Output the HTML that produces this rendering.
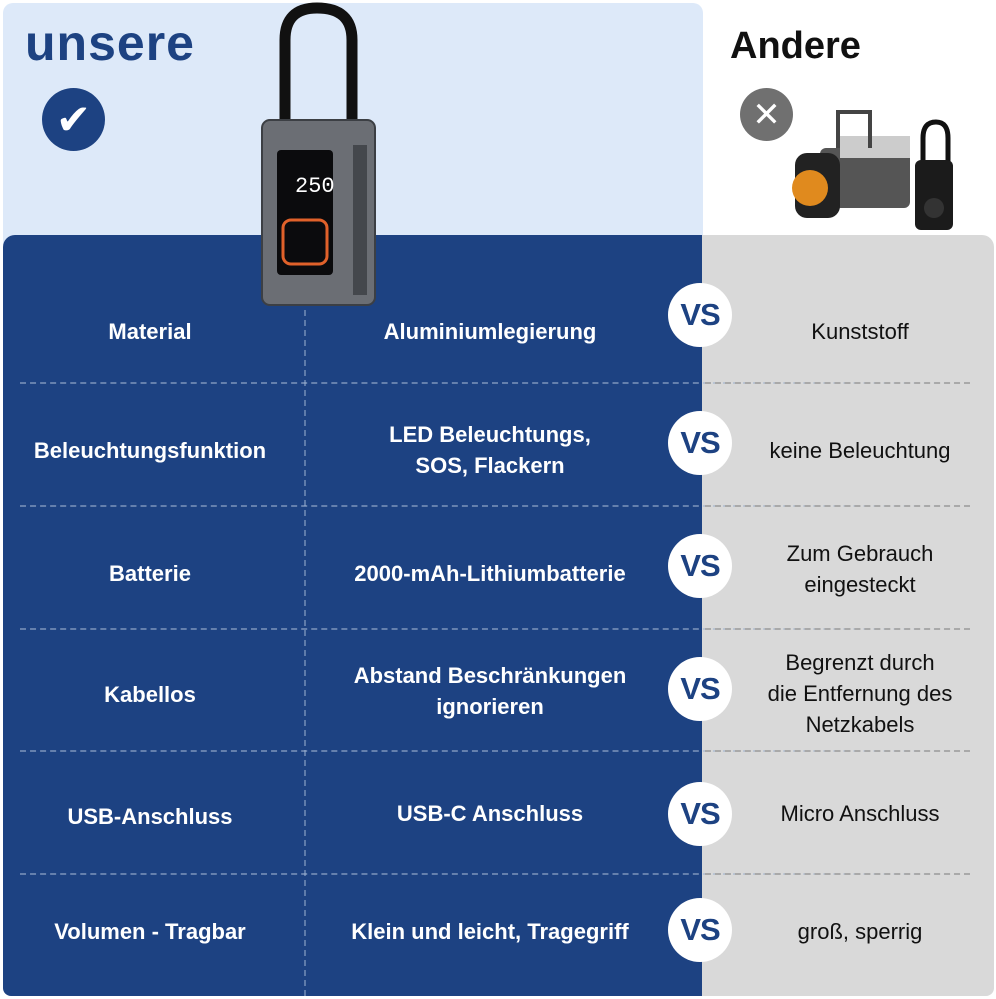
<!DOCTYPE html>
<html><head><meta charset="utf-8"><style>
*{margin:0;padding:0;box-sizing:border-box}
body{width:996px;height:999px;background:#fff;position:relative;overflow:hidden;font-family:"Liberation Sans",Arial,sans-serif}
.abs{position:absolute}
.t{position:absolute;text-align:center;font-size:22px;line-height:31px;display:flex;align-items:center;justify-content:center}
.w{color:#fff;font-weight:bold}
.b{color:#111}
.vs{position:absolute;width:64px;height:64px;border-radius:50%;background:#fff;color:#1d4282;font-weight:bold;font-size:31px;display:flex;align-items:center;justify-content:center;letter-spacing:-1px}
.hd{position:absolute;left:20px;width:950px;height:0;border-top:2px dashed rgba(160,180,210,0.55)}
.hg{position:absolute;left:705px;width:265px;height:0;border-top:2px dashed #a9a9a9}
</style></head><body>
<div class="abs" style="left:3px;top:3px;width:700px;height:250px;background:#dde9f9;border-radius:10px"></div>
<div class="abs" style="left:3px;top:235px;width:702px;height:761px;background:#1d4282;border-radius:12px 0 0 8px"></div>
<div class="abs" style="left:702px;top:235px;width:292px;height:761px;background:#d9d9d9;border-radius:0 12px 8px 0"></div>
<div class="abs" style="left:25px;top:14px;font-size:50px;font-weight:bold;color:#1d4282;letter-spacing:1px">unsere</div>
<div class="abs" style="left:42px;top:88px;width:63px;height:63px;border-radius:50%;background:#1d4282;color:#fff;font-size:42px;display:flex;align-items:center;justify-content:center;font-family:'DejaVu Sans',sans-serif">✔</div>
<div class="abs" style="left:730px;top:25px;font-size:38px;font-weight:bold;color:#111">Andere</div>
<div class="abs" style="left:740px;top:88px;width:53px;height:53px;border-radius:50%;background:#707070;color:#fff;font-size:34px;display:flex;align-items:center;justify-content:center;font-family:'DejaVu Sans',sans-serif">✕</div>
<!-- our device -->
<svg class="abs" style="left:255px;top:0" width="135" height="310">
<path d="M30 122 V40 Q30 8 62 8 Q97 8 97 40 V122" fill="none" stroke="#111" stroke-width="11"/>
<rect x="7" y="120" width="113" height="185" rx="8" fill="#6b6e74"/>
<rect x="7" y="120" width="113" height="185" rx="8" fill="none" stroke="#3c3f44" stroke-width="2"/>
<rect x="22" y="150" width="56" height="125" rx="4" fill="#0b0b0d"/>
<text x="40" y="192" fill="#fff" font-size="22" font-family="Liberation Mono">250</text>
<rect x="28" y="220" width="44" height="44" rx="8" fill="none" stroke="#e0612a" stroke-width="3"/>
<rect x="98" y="145" width="14" height="150" fill="#44474c"/>
</svg>
<!-- other devices -->
<svg class="abs" style="left:790px;top:108px" width="170" height="125">
<rect x="30" y="40" width="90" height="60" rx="6" fill="#555"/>
<rect x="50" y="28" width="70" height="22" fill="#ccc"/>
<path d="M48 40 V4 H80 V40" fill="none" stroke="#444" stroke-width="4"/>
<rect x="5" y="45" width="45" height="65" rx="12" fill="#222"/>
<circle cx="20" cy="80" r="18" fill="#e08a1e"/>
<path d="M133 60 V30 Q133 14 146 14 Q158 14 158 30 V60" fill="none" stroke="#111" stroke-width="5"/>
<rect x="125" y="52" width="38" height="70" rx="6" fill="#1b1b1b"/>
<circle cx="144" cy="100" r="10" fill="#333"/>
</svg>
<!-- grid lines -->
<div class="abs" style="left:304px;top:310px;height:686px;border-left:2px dashed rgba(160,180,210,0.5)"></div>
<div class="hd" style="top:382px"></div><div class="hd" style="top:505px"></div><div class="hd" style="top:628px"></div><div class="hd" style="top:750px"></div><div class="hd" style="top:873px"></div>
<div class="hg" style="top:382px"></div><div class="hg" style="top:505px"></div><div class="hg" style="top:628px"></div><div class="hg" style="top:750px"></div><div class="hg" style="top:873px"></div>
<!-- rows -->
<div class="t w" style="left:0;width:300px;top:300px;height:62px">Material</div>
<div class="t w" style="left:305px;width:370px;top:300px;height:62px">Aluminiumlegierung</div>
<div class="t b" style="left:725px;width:270px;top:300px;height:62px">Kunststoff</div>
<div class="vs" style="left:668px;top:283px">VS</div>

<div class="t w" style="left:0;width:300px;top:419px;height:62px">Beleuchtungsfunktion</div>
<div class="t w" style="left:305px;width:370px;top:419px;height:62px">LED Beleuchtungs,<br>SOS, Flackern</div>
<div class="t b" style="left:725px;width:270px;top:419px;height:62px">keine Beleuchtung</div>
<div class="vs" style="left:668px;top:411px">VS</div>

<div class="t w" style="left:0;width:300px;top:542px;height:62px">Batterie</div>
<div class="t w" style="left:305px;width:370px;top:542px;height:62px">2000-mAh-Lithiumbatterie</div>
<div class="t b" style="left:725px;width:270px;top:538px;height:62px">Zum Gebrauch<br>eingesteckt</div>
<div class="vs" style="left:668px;top:534px">VS</div>

<div class="t w" style="left:0;width:300px;top:663px;height:62px">Kabellos</div>
<div class="t w" style="left:305px;width:370px;top:660px;height:62px">Abstand Beschränkungen<br>ignorieren</div>
<div class="t b" style="left:725px;width:270px;top:645px;height:96px">Begrenzt durch<br>die Entfernung des<br>Netzkabels</div>
<div class="vs" style="left:668px;top:657px">VS</div>

<div class="t w" style="left:0;width:300px;top:785px;height:62px">USB-Anschluss</div>
<div class="t w" style="left:305px;width:370px;top:782px;height:62px">USB-C Anschluss</div>
<div class="t b" style="left:725px;width:270px;top:782px;height:62px">Micro Anschluss</div>
<div class="vs" style="left:668px;top:782px">VS</div>

<div class="t w" style="left:0;width:300px;top:900px;height:62px">Volumen - Tragbar</div>
<div class="t w" style="left:305px;width:370px;top:900px;height:62px">Klein und leicht, Tragegriff</div>
<div class="t b" style="left:725px;width:270px;top:900px;height:62px">groß, sperrig</div>
<div class="vs" style="left:668px;top:898px">VS</div>
</body></html>
